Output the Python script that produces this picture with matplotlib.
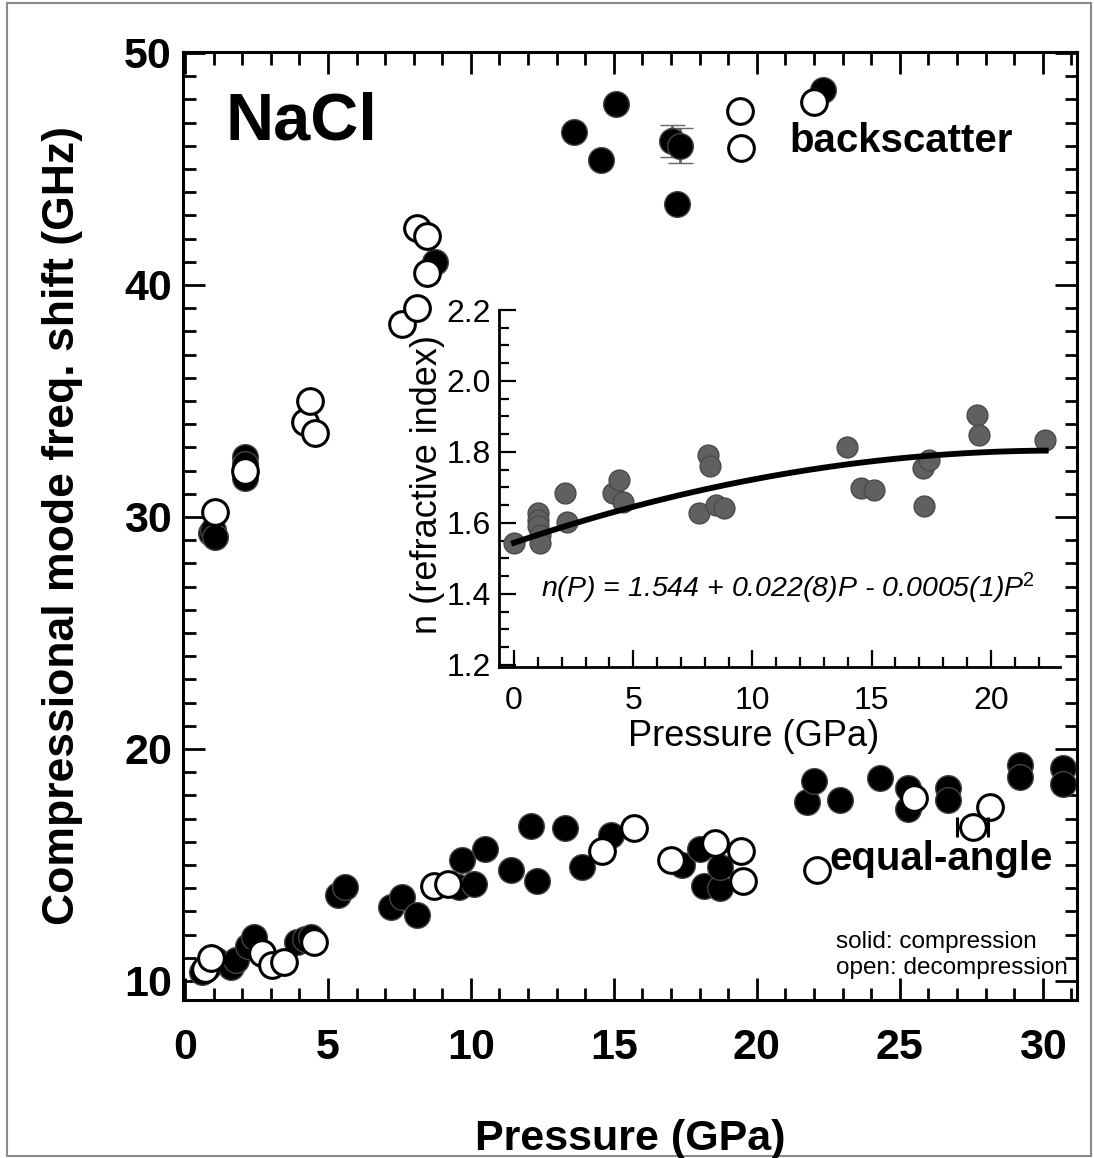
import numpy as np
import matplotlib
matplotlib.use("Agg")
import matplotlib.pyplot as plt
from matplotlib.patches import Rectangle
from matplotlib.ticker import MultipleLocator, FormatStrFormatter

plt.rcParams['font.family'] = ['Liberation Sans', 'DejaVu Sans']
plt.rcParams['mathtext.fontset'] = 'custom'
plt.rcParams['mathtext.rm'] = 'Liberation Sans'
plt.rcParams['mathtext.it'] = 'Liberation Sans:italic'

# backscatter, compression (solid)
bs_comp_P = [0.9, 0.98, 1.05, 2.1, 2.1, 2.1, 8.74, 13.6, 14.55, 15.07, 17.2, 22.3]
bs_comp_f = [29.3, 29.45, 29.15, 32.6, 32.3, 31.7, 41.0, 46.6, 45.4, 47.8, 43.5, 48.4]
# backscatter, decompression (open)
bs_dec_P = [1.05, 2.1, 4.2, 4.37, 4.55, 7.6, 8.1, 8.1, 8.45, 8.45, 19.4, 19.45, 22.0]
bs_dec_f = [30.2, 32.0, 34.1, 35.0, 33.6, 38.3, 39.0, 42.45, 42.1, 40.5, 47.5, 45.9, 47.9]
# backscatter points with error bars
bs_err_P = [17.05, 17.3]
bs_err_f = [46.2, 46.0]
bs_err_df = [0.7, 0.75]

# equal-angle, compression (solid)
ea_comp_P = [0.6, 0.8, 1.0, 1.1, 1.6, 1.8, 2.2, 2.4, 3.9, 4.2, 4.4, 5.35, 5.6,
             7.2, 7.6, 8.1, 9.6, 9.7, 10.1, 10.5, 11.4, 12.1, 12.3, 13.3, 13.9,
             14.9, 17.4, 18.0, 18.15, 18.7, 18.7, 21.75, 22.0, 22.9, 24.3, 25.3,
             25.3, 26.7, 26.7, 29.2, 29.2, 30.7, 30.7]
ea_comp_f = [10.4, 10.6, 10.8, 10.9, 10.6, 10.9, 11.5, 11.9, 11.7, 11.8, 11.9, 13.7, 14.05,
             13.2, 13.6, 12.85, 14.05, 15.2, 14.2, 15.7, 14.8, 16.7, 14.3, 16.6, 14.9,
             16.3, 15.0, 15.7, 14.1, 14.0, 14.9, 17.7, 18.6, 17.8, 18.75, 18.3,
             17.4, 18.3, 17.8, 19.3, 18.8, 19.2, 18.5]
# equal-angle, decompression (open)
ea_dec_P = [0.7, 0.9, 2.7, 3.05, 3.45, 4.5, 8.7, 9.2, 14.6, 15.7, 17.0, 18.55,
            19.45, 19.5, 22.1, 25.5, 28.15]
ea_dec_f = [10.5, 11.0, 11.2, 10.7, 10.8, 11.7, 14.1, 14.2, 15.6, 16.6, 15.2, 15.95,
            15.6, 14.3, 14.8, 17.9, 17.5]
ea_err_P = [27.55]
ea_err_f = [16.65]
ea_err_dP = [0.55]

# inset: refractive index
n_P = [0.0, 1.0, 1.0, 1.0, 1.09, 1.09, 2.14, 2.22, 4.17, 4.42, 4.58, 7.74, 8.15,
       8.23, 8.47, 8.8, 13.96, 14.56, 15.1, 17.16, 17.4, 17.2, 19.43, 19.5, 22.27]
n_val = [1.543, 1.627, 1.608, 1.590, 1.566, 1.543, 1.684, 1.604, 1.684, 1.721, 1.660,
         1.627, 1.792, 1.759, 1.651, 1.641, 1.815, 1.698, 1.693, 1.754, 1.777, 1.648,
         1.904, 1.848, 1.834]
fit_coef = [1.544, 0.0228, -0.0005]

W, H = 1094, 1158
fig = plt.figure(figsize=(W / 100, H / 100), dpi=100)
fig.patches.append(Rectangle((7 / W, 2 / H), 1084 / W, 1153 / H, transform=fig.transFigure,
                             fill=False, ec='#8a8a8a', lw=1.5))

ax = fig.add_axes([183 / W, 1 - 1000 / H, (1077 - 183) / W, (1000 - 52) / H])
ax.set_xlim(-0.07, 31.2)
ax.set_ylim(9.18, 50.04)

ms = 18.5
ax.plot(bs_comp_P, bs_comp_f, 'o', ms=ms, mfc='black', mec='#444', mew=1, ls='none')
ax.errorbar(bs_err_P, bs_err_f, yerr=bs_err_df, fmt='o', ms=ms, mfc='black', mec='#444',
            mew=1, ecolor='#666', elinewidth=2, capsize=9, capthick=2)
ax.plot(bs_dec_P, bs_dec_f, 'o', ms=ms, mfc='white', mec='black', mew=2.2, ls='none')
ax.plot(ea_comp_P, ea_comp_f, 'o', ms=ms, mfc='black', mec='#444', mew=1, ls='none')
ax.plot(ea_dec_P, ea_dec_f, 'o', ms=ms, mfc='white', mec='black', mew=2.2, ls='none')
ax.errorbar(ea_err_P, ea_err_f, xerr=ea_err_dP, fmt='o', ms=ms, mfc='white', mec='black',
            mew=2.2, ecolor='black', elinewidth=2, capsize=7, capthick=2)

ax.xaxis.set_major_locator(MultipleLocator(5))
ax.xaxis.set_minor_locator(MultipleLocator(1))
ax.yaxis.set_major_locator(MultipleLocator(10))
ax.yaxis.set_minor_locator(MultipleLocator(1))
ax.tick_params(which='both', direction='in', top=True, right=True, width=2)
ax.tick_params(which='major', length=16)
ax.tick_params(which='minor', length=9)
ax.tick_params(axis='x', labelsize=31, pad=20)
ax.tick_params(axis='y', labelsize=31, pad=8)
for lbl in ax.get_xticklabels() + ax.get_yticklabels():
    lbl.set_fontweight('bold')
for sp in ax.spines.values():
    sp.set_linewidth(2.2)

ax.text(1.4, 46.25, 'NaCl', fontsize=48, fontweight='bold')
ax.text(21.15, 45.73, 'backscatter', fontsize=29, fontweight='bold')
ax.text(22.55, 14.78, 'equal-angle', fontsize=29, fontweight='bold')
ax.text(22.76, 11.42, 'solid: compression', fontsize=17.5, va='baseline')
ax.text(22.76, 10.3, 'open: decompression', fontsize=17.5, va='baseline')

fig.text(63 / W, 1 - 525 / H, 'Compressional mode freq. shift (GHz)', rotation=90,
         ha='center', va='center', fontsize=32, fontweight='bold')
fig.text(630 / W, 1 - 1150 / H, 'Pressure (GPa)', ha='center', va='baseline',
         fontsize=31, fontweight='bold')

# inset
ax2 = fig.add_axes([499 / W, 1 - 667 / H, (1060 - 499) / W, (667 - 310) / H])
ax2.patch.set_alpha(0)
ax2.set_xlim(-0.63, 22.9)
ax2.set_ylim(1.194, 2.2)
ax2.spines['top'].set_visible(False)
ax2.spines['right'].set_visible(False)
for sp in ax2.spines.values():
    sp.set_linewidth(2)

ax2.plot(n_P, n_val, 'o', ms=15, mfc='#606060', mec='#4a4a4a', mew=1, ls='none')
Pf = np.linspace(0, 22.3, 100)
ax2.plot(Pf, fit_coef[0] + fit_coef[1] * Pf + fit_coef[2] * Pf ** 2, color='black', lw=4.2)

ax2.xaxis.set_major_locator(MultipleLocator(5))
ax2.xaxis.set_minor_locator(MultipleLocator(1))
ax2.yaxis.set_major_locator(MultipleLocator(0.2))
ax2.yaxis.set_minor_locator(MultipleLocator(0.05))
ax2.yaxis.set_major_formatter(FormatStrFormatter('%.1f'))
ax2.tick_params(which='both', direction='in', width=1.6)
ax2.tick_params(which='major', length=12)
ax2.tick_params(which='minor', length=7)
ax2.tick_params(axis='x', labelsize=23, pad=14)
ax2.tick_params(axis='y', labelsize=23, pad=6)

ax2.text(11.5, 1.39, 'n(P) = 1.544 + 0.022(8)P - 0.0005(1)P$^{2}$', style='italic',
         fontsize=20.5, ha='center', va='baseline')
ax2.text(0.453, -0.195, 'Pressure (GPa)', transform=ax2.transAxes, ha='center',
         va='center', fontsize=26)
ax2.text(-0.127, 0.51, 'n (refractive index)', transform=ax2.transAxes, rotation=90,
         ha='center', va='center', fontsize=26)

fig.savefig('out.png', dpi=100)
